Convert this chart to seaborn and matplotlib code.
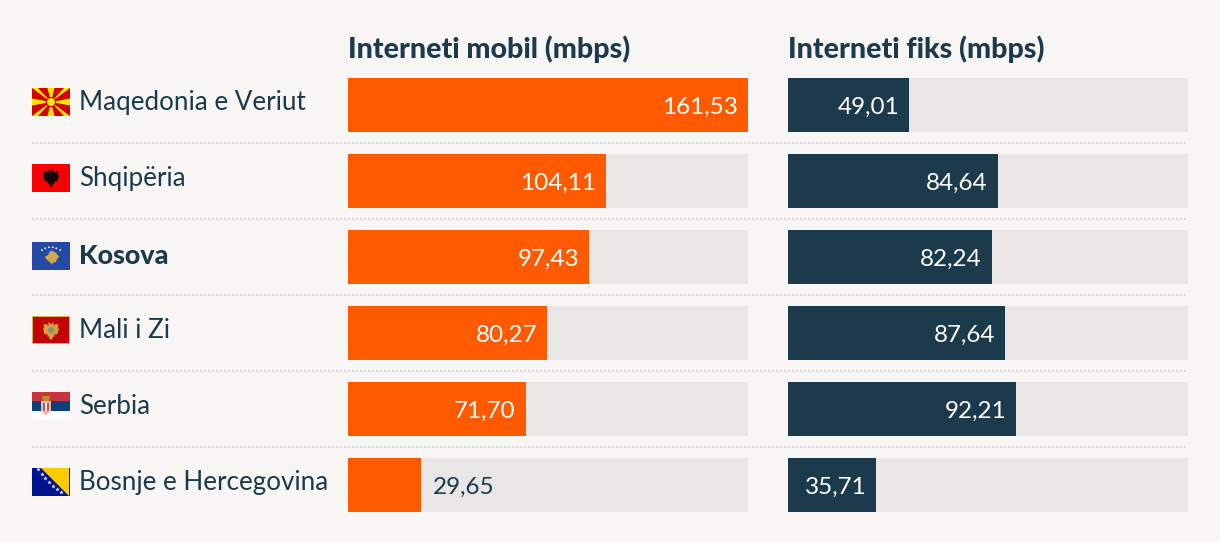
import matplotlib
matplotlib.use("Agg")
import matplotlib.pyplot as plt
import pandas as pd
import seaborn as sns
from matplotlib.patches import Circle, Polygon, Rectangle

# Data
COUNTRIES = ["Maqedonia e Veriut", "Shqipëria", "Kosova", "Mali i Zi", "Serbia", "Bosnje e Hercegovina"]
MOBILE = [161.53, 104.11, 97.43, 80.27, 71.70, 29.65]
FIXED = [49.01, 84.64, 82.24, 87.64, 92.21, 35.71]
MOBILE_TITLE = "Interneti mobil (mbps)"
FIXED_TITLE = "Interneti fiks (mbps)"
SCALE_MAX = 161.53

# Styles
BG = "#f8f6f5"
TRACK = "#e9e7e5"
ORANGE = "#ff5a00"
NAVY = "#1b3a4b"
DOTS = "#dbdad8"
FONT = "Lato"

W, H = 1220, 542
sns.set_theme(style="white")
plt.rcParams["font.family"] = [FONT, "DejaVu Sans"]

fig = plt.figure(figsize=(W / 100, H / 100), dpi=100, facecolor=BG)


def add_px_axes(left, top, right, bottom):
    return fig.add_axes([left / W, 1 - bottom / H, (right - left) / W, (bottom - top) / H])


def draw_bars(ax, values, color, labels_outside=()):
    df = pd.DataFrame({"country": COUNTRIES, "value": values, "track": [SCALE_MAX] * len(values)})
    sns.barplot(data=df, y="country", x="track", color=TRACK, width=54 / 76, saturation=1, linewidth=0, ax=ax)
    sns.barplot(data=df, y="country", x="value", color=color, width=54 / 76, saturation=1, linewidth=0, ax=ax)
    ax.set_xlim(0, SCALE_MAX)
    ax.set_ylim(5 + 27 / 76, -27 / 76)
    ax.axis("off")
    ax.patch.set_alpha(0)
    for i, v in enumerate(values):
        text = f"{v:.2f}".replace(".", ",")
        if i in labels_outside:
            ax.annotate(text, (v, i), xytext=(8.2, -6.4), textcoords="offset points",
                        ha="left", va="baseline", color=NAVY, fontsize=17.5)
        else:
            ax.annotate(text, (v, i), xytext=(-7, -6.4), textcoords="offset points",
                        ha="right", va="baseline", color="white", fontsize=17.5)


# Overlay in pixel units for the separators and flags
page = add_px_axes(0, 0, W, H)
page.set_xlim(0, W)
page.set_ylim(H, 0)
page.axis("off")

for y in [143, 219, 295, 371, 447]:
    page.plot([32, 1188], [y, y], color=DOTS, lw=1.44, linestyle=(0, (1, 1)), dash_capstyle="butt")


def rect(x, y, w, h, color):
    page.add_patch(Rectangle((x, y), w, h, facecolor=color, edgecolor="none"))


def shape(x, y, pts, color):
    page.add_patch(Polygon([(x + a, y + b) for a, b in pts], fc=color, ec="none"))


def flag_macedonia(x, y):
    rect(x, y, 38, 28, "#d20000")
    yellow = "#ffe600"
    c = (19, 14)
    shape(x, y, [c, (15.5, 0), (22.5, 0)], yellow)
    shape(x, y, [c, (15.5, 28), (22.5, 28)], yellow)
    shape(x, y, [c, (0, 10.5), (0, 17.5)], yellow)
    shape(x, y, [c, (38, 10.5), (38, 17.5)], yellow)
    shape(x, y, [c, (0, 0), (6, 0)], yellow)
    shape(x, y, [c, (38, 0), (32, 0)], yellow)
    shape(x, y, [c, (0, 28), (6, 28)], yellow)
    shape(x, y, [c, (38, 28), (32, 28)], yellow)
    page.add_patch(Circle((x + 19, y + 14), 5, fc="#d20000", ec="none"))
    page.add_patch(Circle((x + 19, y + 14), 4, fc=yellow, ec="none"))


EAGLE = [(-2.5, -8.5), (-0.5, -7), (0, -5.5), (0.5, -7), (2.5, -8.5), (2.5, -5), (5, -6.5), (7.5, -6), (7, -3),
         (8, -1), (7, 1), (7, 3), (5, 4), (3, 4), (4, 6), (2, 6), (1, 9), (-1, 9), (-2, 6), (-4, 6), (-3, 4),
         (-5, 4), (-7, 3), (-7, 1), (-8, -1), (-7, -3), (-7.5, -6), (-5, -6.5), (-2.5, -5)]


def flag_albania(x, y):
    rect(x, y, 38, 28, "#fb0000")
    shape(x + 19, y + 13.5, EAGLE, "#140808")


def flag_kosovo(x, y):
    rect(x, y, 38, 28, "#244aa5")
    pts = [(12.7, 15), (16, 13), (18, 9), (21, 9), (24, 11), (27.3, 15), (25, 17), (24, 20), (21, 20.5), (20, 23),
           (18.5, 20.5), (15, 18)]
    shape(x, y, pts, "#d0a650")
    for a, b in [(10, 8), (13.3, 6.3), (17, 5.3), (20.7, 5.3), (24.3, 6.3), (28.3, 8)]:
        page.add_patch(Circle((x + a, y + b), 0.9, fc="white", ec="none"))


def flag_montenegro(x, y):
    rect(x, y, 38, 28, "#d9b04a")
    rect(x + 1.3, y + 1.3, 35.4, 25.4, "#c40308")
    shape(x + 19, y + 14.5, EAGLE, "#d3a03c")
    page.add_patch(Circle((x + 19, y + 14), 2.8, fc="#7f8f8a", ec="none"))


def flag_serbia(x, y):
    rect(x, y, 38, 9.4, "#c6363c")
    rect(x, y + 9.4, 38, 9.3, "#0c4076")
    rect(x, y + 18.7, 38, 9.3, "#ffffff")
    shape(x, y, [(9, 9), (19, 9), (19, 19), (14, 23.5), (9, 19)], "#e7b9b4")
    shape(x, y, [(11, 11), (17, 11), (17, 18), (14, 20.5), (11, 18)], "#c9504c")
    shape(x, y, [(13, 11), (15, 11), (15, 20), (13, 20)], "#f6efed")
    shape(x, y, [(10, 4), (18, 4), (17, 9), (11, 9)], "#c08a35")


def flag_bosnia(x, y):
    rect(x, y, 38, 28, "#00148f")
    shape(x, y, [(9, 0), (36.7, 0), (36.7, 28)], "#fecb00")
    for a, b in [(6, 1.3), (10, 6), (13.3, 10), (17.3, 14), (21.3, 18), (25.3, 20.7), (29.3, 24)]:
        page.scatter([x + a], [y + b], s=11, color="white", marker="*", linewidths=0)


FLAGS = [(flag_macedonia, 88), (flag_albania, 164), (flag_kosovo, 242),
         (flag_montenegro, 316), (flag_serbia, 392), (flag_bosnia, 468)]
for draw, top in FLAGS:
    draw(32, top)

# Bars
ax_left = add_px_axes(348, 78, 748, 512)
draw_bars(ax_left, MOBILE, ORANGE, labels_outside=(5,))
ax_right = add_px_axes(788, 78, 1188, 512)
draw_bars(ax_right, FIXED, NAVY)

# Row names and column titles
for i, name in enumerate(COUNTRIES):
    bold = name == "Kosova"
    ax_left.annotate(name, (0, i), xytext=(-193.7, -5.2 if bold else -3.6), textcoords="offset points",
                     ha="left", va="baseline", color=NAVY, fontsize=19.4 if bold else 18.7,
                     fontweight="black" if bold else "normal")

page.text(348, 58, MOBILE_TITLE, color=NAVY, fontsize=20.6, fontweight="black", va="baseline")
page.text(788, 58, FIXED_TITLE, color=NAVY, fontsize=20.6, fontweight="black", va="baseline")

fig.savefig("out.png", dpi=100, facecolor=BG)
